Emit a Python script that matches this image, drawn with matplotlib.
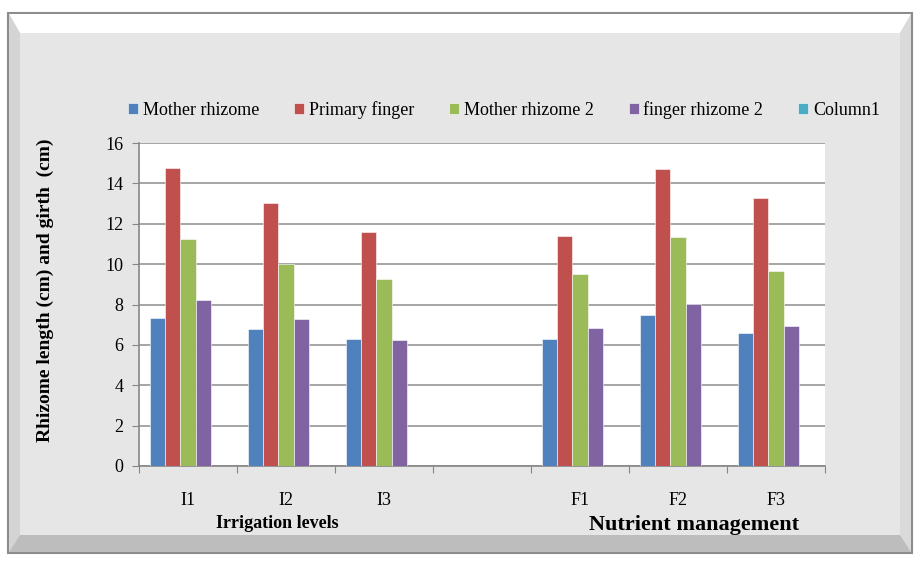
import matplotlib
matplotlib.use("Agg")
import matplotlib.pyplot as plt
import numpy as np
from matplotlib.patches import Rectangle, Polygon

categories = ["I1", "I2", "I3", "", "F1", "F2", "F3"]
series_names = ["Mother rhizome", "Primary finger", "Mother rhizome 2", "finger rhizome 2", "Column1"]
mother_rhizome = [7.32, 6.77, 6.31, np.nan, 6.31, 7.46, 6.57]
primary_finger = [14.76, 13.03, 11.61, np.nan, 11.41, 14.69, 13.27]
mother_rhizome_2 = [11.23, 10.02, 9.28, np.nan, 9.53, 11.33, 9.64]
finger_rhizome_2 = [8.24, 7.28, 6.24, np.nan, 6.82, 8.04, 6.95]
column1 = [np.nan] * 7
colors = ["#4F81BD", "#C0504D", "#9BBB59", "#8064A2", "#4BACC6"]
yticks = [0, 2, 4, 6, 8, 10, 12, 14, 16]

W, H = 914, 561
fig = plt.figure(figsize=(W / 100, H / 100), dpi=100)
fig.patch.set_facecolor("white")

def fx(x): return x / W
def fy(y): return 1 - y / H

# Frame background with bevel
fig.patches.append(Rectangle((fx(8), fy(553)), fx(912) - fx(8), fy(13) - fy(553),
                             transform=fig.transFigure, facecolor="#E6E6E6",
                             edgecolor="#8C8C8C", linewidth=1.5, zorder=0))
fig.patches.append(Polygon([(fx(9), fy(14)), (fx(911), fy(14)), (fx(900), fy(33)), (fx(20), fy(33))],
                           closed=True, transform=fig.transFigure, facecolor="white",
                           edgecolor="none", zorder=0.5))
fig.patches.append(Polygon([(fx(9), fy(14)), (fx(20), fy(33)), (fx(20), fy(535)), (fx(9), fy(552))],
                           closed=True, transform=fig.transFigure, facecolor="#D4D4D4",
                           edgecolor="none", zorder=0.5))
fig.patches.append(Polygon([(fx(911), fy(14)), (fx(900), fy(33)), (fx(900), fy(535)), (fx(911), fy(552))],
                           closed=True, transform=fig.transFigure, facecolor="#DADADA",
                           edgecolor="none", zorder=0.5))
fig.patches.append(Polygon([(fx(9), fy(552)), (fx(20), fy(535)), (fx(900), fy(535)), (fx(911), fy(552))],
                           closed=True, transform=fig.transFigure, facecolor="#BDBDBD",
                           edgecolor="none", zorder=0.5))

ax = fig.add_axes([fx(139), fy(466), fx(825) - fx(139), fy(143) - fy(466)])
ax.set_zorder(2)
ax.set_facecolor("white")

data = [mother_rhizome, primary_finger, mother_rhizome_2, finger_rhizome_2, column1]
n = len(categories)
x = np.arange(n)
gap = 1.4
bw = 1.0 / (5 + gap)
for i, (vals, c, name) in enumerate(zip(data, colors, series_names)):
    offs = -0.5 + gap * bw / 2 + bw * (i + 0.5)
    ax.bar(x + offs, vals, width=bw, color=c, edgecolor="white", linewidth=0.4,
           label=name, zorder=3)

ax.set_xlim(-0.5, n - 0.5)
ax.set_ylim(0, 16)
ax.set_yticks(yticks)
ax.set_yticklabels([str(t) for t in yticks], fontsize=13, family="Liberation Serif")
ax.yaxis.grid(True, color="#969696", linewidth=1.2, zorder=1)
ax.set_axisbelow(True)
ax.set_xticks(np.arange(n + 1) - 0.5)
ax.set_xticklabels([])
ax.set_xticks(x, minor=True)
ax.set_xticklabels(categories, minor=True, fontsize=13, family="Liberation Serif")
ax.tick_params(axis="x", which="minor", length=0, pad=19)
ax.tick_params(axis="x", which="major", length=5, color="#868686", direction="out")
ax.tick_params(axis="y", length=5, color="#868686", direction="out", pad=6)
for s in ["top", "right"]:
    ax.spines[s].set_visible(False)
for s in ["left", "bottom"]:
    ax.spines[s].set_color("#868686")
    ax.spines[s].set_linewidth(1.2)

fig.text(fx(45), fy(290), "Rhizome length (cm) and girth  (cm)", rotation=90,
         ha="center", va="center", fontsize=14, fontweight="bold", family="Liberation Serif")
fig.text(fx(277), fy(524), "Irrigation levels", ha="center", va="center",
         fontsize=13, fontweight="bold", family="Liberation Serif")
fig.text(fx(694), fy(525), "Nutrient management", ha="center", va="center",
         fontsize=16, fontweight="bold", family="Liberation Serif")

leg = fig.legend(loc="center", bbox_to_anchor=(fx(504), fy(110)), ncol=5, frameon=False,
                 prop={"family": "Liberation Serif", "size": 13}, handlelength=0.55,
                 handleheight=0.55, handletextpad=0.25, columnspacing=1.95)

fig.savefig("out.png", dpi=100, facecolor=fig.get_facecolor())
